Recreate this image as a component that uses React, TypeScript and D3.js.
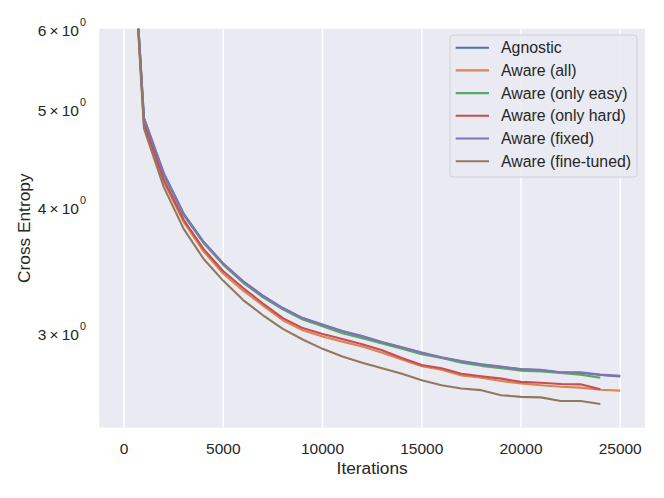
import React from "react";
import * as d3 from "d3";

const iterations = [0, 1000, 2000, 3000, 4000, 5000, 6000, 7000, 8000, 9000, 10000, 11000, 12000, 13000, 14000, 15000, 16000, 17000, 18000, 19000, 20000, 21000, 22000, 23000, 24000, 25000];

const agnostic = [10.3, 4.895, 4.315, 3.935, 3.69, 3.51, 3.372, 3.262, 3.172, 3.1, 3.052, 3.008, 2.972, 2.932, 2.898, 2.862, 2.832, 2.808, 2.788, 2.772, 2.758, 2.752, 2.738, 2.736, 2.722, 2.714];
const awareAll = [10.3, 4.83, 4.23, 3.86, 3.61, 3.43, 3.3, 3.19, 3.085, 3.015, 2.972, 2.938, 2.905, 2.865, 2.82, 2.778, 2.755, 2.72, 2.705, 2.685, 2.67, 2.66, 2.65, 2.645, 2.632, 2.627];
const awareEasy = [10.3, 4.88, 4.3, 3.92, 3.68, 3.5, 3.36, 3.25, 3.162, 3.09, 3.042, 2.995, 2.96, 2.925, 2.89, 2.855, 2.83, 2.8, 2.78, 2.765, 2.75, 2.745, 2.735, 2.725, 2.705];
const awareHard = [10.3, 4.84, 4.25, 3.88, 3.63, 3.45, 3.32, 3.205, 3.1, 3.03, 2.99, 2.955, 2.92, 2.88, 2.83, 2.785, 2.765, 2.73, 2.715, 2.7, 2.68, 2.675, 2.667, 2.665, 2.635];
const awareFixed = [10.3, 4.89, 4.31, 3.93, 3.69, 3.51, 3.37, 3.26, 3.17, 3.1, 3.055, 3.01, 2.975, 2.935, 2.9, 2.865, 2.835, 2.81, 2.79, 2.775, 2.76, 2.755, 2.74, 2.74, 2.725, 2.717];
const awareFineTuned = [10.3, 4.78, 4.18, 3.8, 3.55, 3.375, 3.23, 3.12, 3.025, 2.952, 2.89, 2.84, 2.8, 2.765, 2.73, 2.69, 2.66, 2.64, 2.63, 2.6, 2.59, 2.587, 2.566, 2.566, 2.548];

const seriesNames = ["Agnostic", "Aware (all)", "Aware (only easy)", "Aware (only hard)", "Aware (fixed)", "Aware (fine-tuned)"];
const seriesValues = [agnostic, awareAll, awareEasy, awareHard, awareFixed, awareFineTuned];
const seriesColors = ["#4c72b0", "#dd8452", "#55a868", "#c44e52", "#8172b3", "#937860"];

const xTicks = [0, 5000, 10000, 15000, 20000, 25000];
const yTicks = [3, 4, 5, 6];

const W = 664;
const H = 498;
const left = 99.3;
const right = 645;
const top = 28.7;
const bottom = 427.7;
const FONT = "'Liberation Sans', Arial, sans-serif";
const TEXT = "#262626";

export default function App() {
  const x = d3.scaleLinear().domain([-1250, 26250]).range([left, right]);
  const y = d3.scaleLog().domain([2.414, 6]).range([bottom, top]);
  const line = d3
    .line<[number, number]>()
    .x((d) => x(d[0]))
    .y((d) => y(d[1]));

  const legendX = 450;
  const legendY = 35;
  const legendW = 187;
  const legendH = 142;
  const rowY = (i: number) => legendY + 12.7 + i * 22.7;

  return (
    <svg
      width={W}
      height={H}
      style={{ position: "absolute", left: 0, top: 0, display: "block", background: "#ffffff" }}
      fontFamily={FONT}
    >
      <defs>
        <clipPath id="plotclip">
          <rect x={left} y={top} width={right - left} height={bottom - top} />
        </clipPath>
      </defs>
      <rect x={0} y={0} width={W} height={H} fill="#ffffff" />
      <rect x={left} y={top} width={right - left} height={bottom - top} fill="#eaeaf2" />
      {xTicks.map((t) => (
        <line key={"g" + t} x1={x(t)} x2={x(t)} y1={top} y2={bottom} stroke="#ffffff" strokeWidth={1.5} />
      ))}
      <g clipPath="url(#plotclip)">
        {seriesValues.map((vals, i) => {
          const pts: [number, number][] = vals.map((v, j) => [iterations[j], v]);
          return (
            <path
              key={seriesNames[i]}
              d={line(pts) || ""}
              fill="none"
              stroke={seriesColors[i]}
              strokeWidth={2.1}
              strokeLinejoin="round"
              strokeLinecap="butt"
            />
          );
        })}
      </g>
      {xTicks.map((t) => (
        <text key={"xt" + t} x={x(t)} y={454.3} textAnchor="middle" fontSize={15.5} fill={TEXT}>
          {String(t)}
        </text>
      ))}
      {yTicks.map((t) => (
        <text key={"yt" + t} x={86} y={y(t) + 7.5} textAnchor="end" fontSize={15.5} fill={TEXT}>
          {t + "\u2009×\u200910"}
          <tspan fontSize={10.8} dy={-10} dx={1}>
            0
          </tspan>
        </text>
      ))}
      <text x={(left + right) / 2} y={474} textAnchor="middle" fontSize={17.3} fill={TEXT}>
        Iterations
      </text>
      <text
        transform={`translate(29.5, ${(top + bottom) / 2}) rotate(-90)`}
        textAnchor="middle"
        fontSize={17.3}
        fill={TEXT}
      >
        Cross Entropy
      </text>
      <rect
        x={legendX}
        y={legendY}
        width={legendW}
        height={legendH}
        rx={3}
        ry={3}
        fill="#eaeaf2"
        fillOpacity={0.9}
        stroke="#cfcfd6"
        strokeWidth={1}
      />
      {seriesNames.map((name, i) => (
        <g key={"lg" + name}>
          <line x1={455.7} x2={489} y1={rowY(i)} y2={rowY(i)} stroke={seriesColors[i]} strokeWidth={2.1} />
          <text x={501} y={rowY(i) + 5.5} fontSize={15.85} fill={TEXT}>
            {name}
          </text>
        </g>
      ))}
    </svg>
  );
}
